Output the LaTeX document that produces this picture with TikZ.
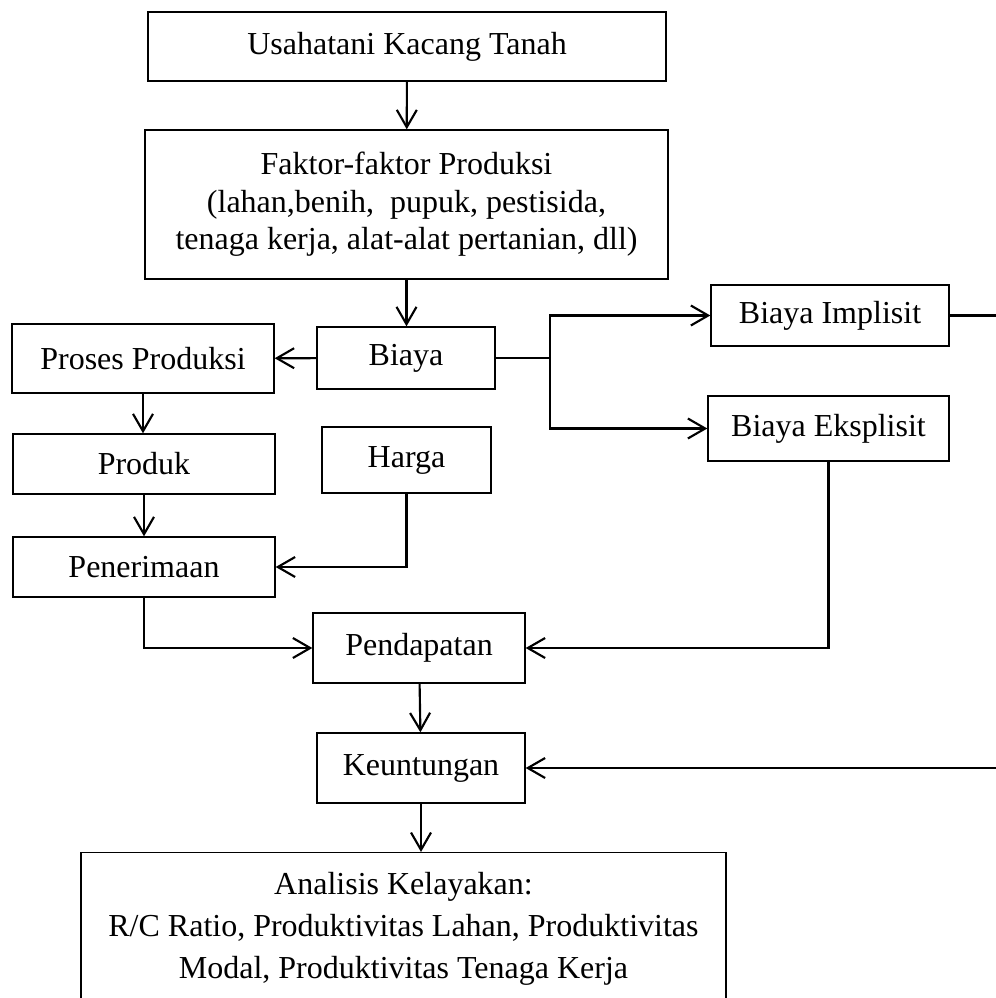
\documentclass[tikz,border=0pt]{standalone}
\usepackage{fontspec}
\setmainfont{Liberation Serif}
\usepackage{tikz}
\usetikzlibrary{arrows.meta,positioning}

\begin{document}
\begin{tikzpicture}[
        x=0.375pt, y=-0.375pt,
        % Define styles for the boxes and connectors
        box/.style={
            draw,
            rectangle,
            line width=0.5pt,
            align=center,
            inner sep=0pt,
            font=\fontsize{12}{14}\selectfont
        },
        boxsize/.style 2 args={
            minimum width=#1*0.375pt,
            minimum height=#2*0.375pt
        },
        arrow/.style={
            -{Straight Barb[length=6.5pt,width=7.5pt,line width=0.8pt]},
            line width=0.8pt
        },
        line/.style={
            line width=0.8pt
        }
    ]

    % Page frame; things running off the edge are cut
    \path[use as bounding box, clip] (0,0) rectangle (996,998);

    % Top chain
    \node[box, boxsize={518}{69}] (usaha) at (407,46.5) {Usahatani Kacang Tanah};
    \node[box, boxsize={523}{149}] (faktor) at (406.5,204.5)
        {Faktor-faktor Produksi\\(lahan,benih,\ \ pupuk, pestisida,\\tenaga kerja, alat-alat pertanian, dll)};

    % Cost and production
    \node[box, boxsize={178}{62}] (biaya) at (406,358) {Biaya};
    \node[box, boxsize={262}{69}] (proses) at (143,358.5) {Proses Produksi};
    \node[box, boxsize={238}{61}] (implisit) at (830,315.5) {Biaya Implisit};
    \node[box, boxsize={241}{65}] (eksplisit) at (828.5,428.5) {Biaya Eksplisit};
    \coordinate (split) at (550,358);

    % Revenue side
    \node[box, boxsize={262}{60}] (produk) at (144,464) {Produk};
    \node[box, boxsize={169}{66}] (harga) at (406.5,460) {Harga};
    \node[box, boxsize={262}{60}] (terima) at (144,567) {Penerimaan};

    % Income, profit, analysis
    \node[box, boxsize={212}{70}] (pendapatan) at (419,648) {Pendapatan};
    \node[box, boxsize={208}{70}] (untung) at (421,768) {Keuntungan};
    \node[box, boxsize={645}{152}, anchor=north,
          font=\fontsize{12}{15.75}\selectfont] (analisis) at (403.5,852)
        {Analisis Kelayakan:\\R/C Ratio, Produktivitas Lahan, Produktivitas\\Modal, Produktivitas Tenaga Kerja};

    % Connections
    \draw[arrow] (usaha) -- (faktor);
    \draw[arrow] (faktor.south) -- (faktor.south |- biaya.north);
    \draw[arrow] (biaya) -- (proses);
    \draw[line] (biaya) -- (split);
    \draw[arrow] (split) |- (implisit);
    \draw[arrow] (split) |- (eksplisit);
    \draw[arrow] (proses.south) -- (proses.south |- produk.north);
    \draw[arrow] (produk) -- (terima);
    \draw[arrow] (harga.south) |- (terima.east);
    \draw[arrow] (terima.south) |- (pendapatan.west);
    \draw[arrow] (eksplisit.south) |- (pendapatan.east);
    \draw[arrow] (pendapatan) -- (untung);
    \draw[arrow] (implisit.east) -- ++(80,0) |- (untung.east);
    \draw[arrow] (untung.south) -- (untung.south |- analisis.north);

\end{tikzpicture}
\end{document}
